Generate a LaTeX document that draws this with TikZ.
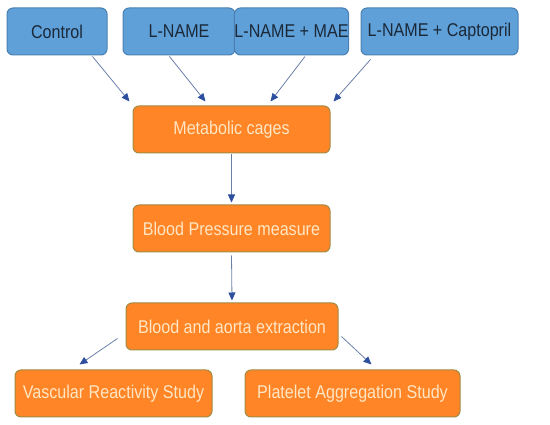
\documentclass[tikz,border=0pt]{standalone}
\usepackage{fontspec}
\setmainfont[FakeStretch=0.87]{Liberation Sans}
\usetikzlibrary{arrows.meta,calc}
\definecolor{bfill}{HTML}{5FA0D8}
\definecolor{bdraw}{HTML}{4A7FB0}
\definecolor{btext}{HTML}{1A2838}
\definecolor{ofill}{HTML}{FF8526}
\definecolor{odraw}{HTML}{A08A40}
\definecolor{otext}{HTML}{FFE6C4}
\definecolor{aline}{HTML}{6A7FA8}
\definecolor{ahead}{HTML}{2E4FA0}
\tikzset{
  bbox/.style={draw=bdraw, line width=1pt, fill=bfill, rounded corners=6pt, minimum height=47pt, inner sep=0pt, text=btext, font=\fontsize{18.5}{21}\selectfont},
  obox/.style={draw=odraw, line width=1pt, fill=ofill, rounded corners=6pt, minimum height=47pt, inner sep=0pt, text=otext, font=\fontsize{18.5}{21}\selectfont},
  conn/.style={draw=aline, line width=0.8pt, -{Triangle[length=8pt,width=7pt,fill=ahead,color=ahead]}},
}
\begin{document}
\begin{tikzpicture}[x=1pt,y=-1pt]
\useasboundingbox (0,0) rectangle (550,425);
\node[bbox, minimum width=100pt] (ctrl) at (57,31.5) {Control};
\node[bbox, minimum width=112pt] (lname) at (179,31.5) {L-NAME};
\node[bbox, minimum width=109pt] (mae) at (291.5,31.5) {L-NAME + MAE};
\node[bbox, minimum width=157pt] (capt) at (439.5,31.5) {L-NAME + Captopril};
\node[obox, minimum width=197pt] (meta) at (231.5,129.5) {Metabolic cages};
\node[obox, minimum width=197pt] (bp) at (231.5,228.5) {Blood Pressure measure};
\node[obox, minimum width=212pt] (blood) at (232,326.5) {Blood and aorta extraction};
\node[obox, minimum width=197pt] (vasc) at (113.5,393.5) {Vascular Reactivity Study};
\node[obox, minimum width=215pt] (plat) at (352.5,393.5) {Platelet Aggregation Study};
\draw[conn] ($(ctrl.south west)+(86,1)$) -- ($(meta.north west)+(-3,-4)$);
\draw[conn] ($(lname.south west)+(47,1)$) -- ($(meta.north west)+(73,-4)$);
\draw[conn] ($(mae.south west)+(71,1)$) -- ($(meta.north west)+(138,-4)$);
\draw[conn] ($(capt.south west)+(10,4)$) -- ($(meta.north west)+(201,-4)$);
\draw[conn] ($(meta.south)+(0,1)$) -- ($(bp.north)+(0,-2)$);
\draw[conn] ($(bp.south)+(0,3)$) -- ($(blood.north)+(0,-2)$);
\draw[conn] ($(blood.west)+(-8,12)$) -- ($(vasc.north west)+(65,-5)$);
\draw[conn] ($(blood.east)+(3,10)$) -- ($(plat.north west)+(127,-5)$);
\end{tikzpicture}
\end{document}
